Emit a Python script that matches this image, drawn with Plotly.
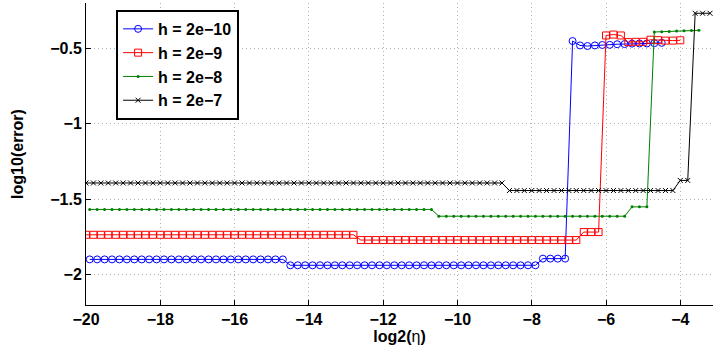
import numpy as np
import plotly.graph_objects as go

# ---------------- data ----------------
# x grids: log2(eta)
x_h10 = np.round(np.arange(-19.9, -4.5 + 0.01, 0.2), 1)   # blue, 78 pts
x_h9 = np.round(np.arange(-20.0, -4.0 + 0.01, 0.2), 1)    # red, 81 pts
x_h8 = np.round(np.arange(-19.9, -3.5 + 0.01, 0.2), 1)    # green, 83 pts
x_h7 = np.round(np.arange(-20.0, -3.2 + 0.01, 0.2), 1)    # black, 85 pts

# log10(error)
y_h10 = ([-1.898] * 27 + [-1.937] * 34 + [-1.893] * 4 +
         [-0.452, -0.481, -0.485, -0.481, -0.478, -0.477, -0.473,
          -0.472, -0.469, -0.468, -0.468, -0.466, -0.464])
y_h9 = ([-1.735] * 37 + [-1.770] * 30 + [-1.717] * 3 +
        [-0.415, -0.409, -0.415, -0.459, -0.457, -0.457, -0.443,
         -0.446, -0.449, -0.449, -0.447])
y_h8 = ([-1.567] * 47 + [-1.612] * 26 + [-1.550] * 3 +
        [-0.392, -0.390, -0.388, -0.386, -0.384, -0.382, -0.381])
y_h7 = ([-1.392] * 57 + [-1.442] * 23 + [-1.375] * 2 +
        [-0.268, -0.268, -0.268])

labels = ["h = 2e\u221210", "h = 2e\u22129", "h = 2e\u22128", "h = 2e\u22127"]
x_ticks = [-20, -18, -16, -14, -12, -10, -8, -6, -4]
y_ticks = [-2, -1.5, -1, -0.5]
y_ticktext = ["\u22122", "\u22121.5", "\u22121", "\u22120.5"]

# ---------------- figure ----------------
fig = go.Figure()
fig.add_trace(go.Scatter(x=x_h10, y=y_h10, name=labels[0], mode="lines+markers",
                         line=dict(color="#0000ff", width=1),
                         marker=dict(symbol="circle-open", size=7, color="#0000ff",
                                     line=dict(width=1))))
fig.add_trace(go.Scatter(x=x_h9, y=y_h9, name=labels[1], mode="lines+markers",
                         line=dict(color="#ff0000", width=1),
                         marker=dict(symbol="square-open", size=7, color="#ff0000",
                                     line=dict(width=1))))
fig.add_trace(go.Scatter(x=x_h8, y=y_h8, name=labels[2], mode="lines+markers",
                         line=dict(color="#008000", width=1),
                         marker=dict(symbol="circle", size=3, color="#008000")))
fig.add_trace(go.Scatter(x=x_h7, y=y_h7, name=labels[3], mode="lines+markers",
                         line=dict(color="#000000", width=1),
                         marker=dict(symbol="x-thin-open", size=5, color="#000000",
                                     line=dict(width=1, color="#000000"))))

axis_common = dict(
    showline=True, linecolor="black", linewidth=1,
    ticks="inside", ticklen=5, tickcolor="black", tickwidth=1,
    showgrid=True, gridcolor="#b0b0b0", griddash="1px,3px", gridwidth=1,
    zeroline=False, mirror=False,
    tickfont=dict(family="Liberation Sans", size=16, color="black", weight="bold"),
)

fig.update_layout(
    width=713, height=349,
    margin=dict(l=86, r=0, t=3, b=44),
    paper_bgcolor="white", plot_bgcolor="white",
    font=dict(family="Liberation Sans", size=16, color="black", weight="bold"),
    xaxis=dict(range=[-20, -3.12], tickmode="array", tickvals=x_ticks,
               title=dict(text="<b>log2(</b><span style='font-weight:normal'>\u03b7</span><b>)</b>",
                          font=dict(family="Liberation Sans", size=16, color="black"),
                          standoff=2),
               **axis_common),
    yaxis=dict(range=[-2.2, -0.2], tickmode="array", tickvals=y_ticks, ticktext=y_ticktext,
               title=dict(text="log10(error)",
                          font=dict(family="Liberation Sans", size=16, color="black",
                                    weight="bold"),
                          standoff=22),
               **axis_common),
    showlegend=True,
    legend=dict(x=0.048, y=0.977, xanchor="left", yanchor="top",
                bordercolor="black", borderwidth=2, bgcolor="white",
                font=dict(family="Liberation Sans", size=16, color="black", weight="bold"),
                itemwidth=30, tracegroupgap=0),
)

fig.write_html("out.html")
